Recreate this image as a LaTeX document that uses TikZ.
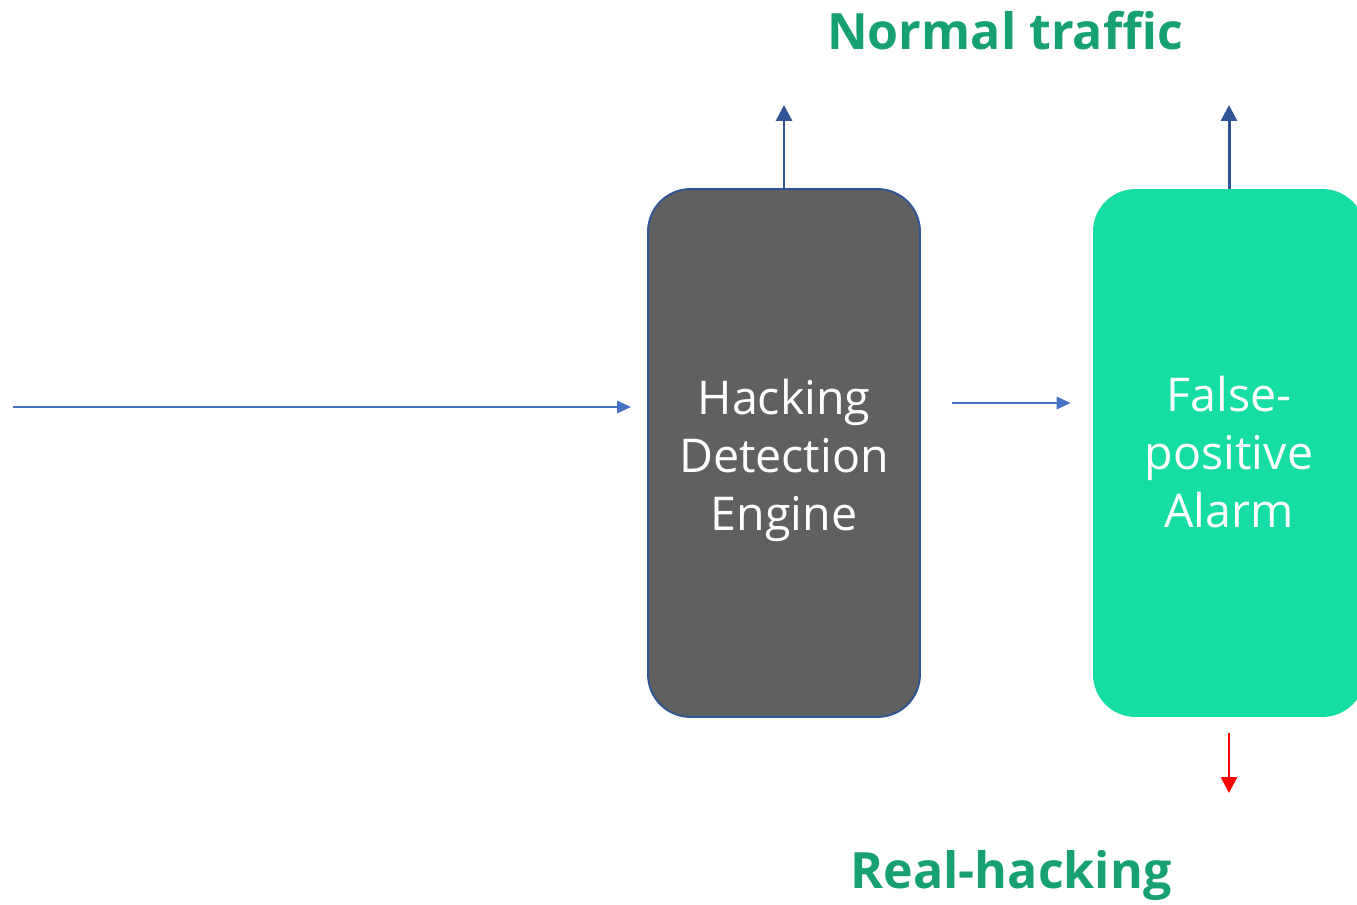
\documentclass[tikz,border=0pt]{standalone}
\usepackage{fontspec}
\setmainfont{Open Sans}
\usetikzlibrary{arrows.meta,positioning}
\definecolor{enginegray}{HTML}{606060}
\definecolor{edgeblue}{HTML}{2F5597}
\definecolor{flowblue}{HTML}{4472C4}
\definecolor{alarmgreen}{HTML}{16DDA3}
\definecolor{titlegreen}{HTML}{16A073}
\tikzset{
  stagebox/.style={rounded corners=0.85cm, minimum width=5.44cm, minimum height=10.56cm, inner sep=0pt},
  stagetext/.style={align=center, text=white, yshift=-0.15cm, font=\fontsize{26.5}{33}\selectfont},
  flow/.style={draw=flowblue, line width=1.3pt, -{Triangle[length=8pt,width=7pt]}},
  outflow/.style={draw=edgeblue, line width=1.7pt, -{Triangle[length=9pt,width=9pt]}},
  alarmflow/.style={draw=red, line width=1.6pt, -{Triangle[length=9pt,width=9pt]}},
  headline/.style={text=titlegreen, font=\fontsize{28.5}{34}\selectfont\bfseries}
}
\begin{document}
\begin{tikzpicture}[x=0.02cm,y=-0.02cm]
  \useasboundingbox (0,0) rectangle (1357,904);
  % the two stages
  \node [stagebox, fill=enginegray, draw=edgeblue, line width=1.1pt,
    label={[stagetext]center:Hacking\\Detection\\Engine}] (engine) at (784,453) {};
  \node [stagebox, fill=alarmgreen,
    label={[stagetext, yshift=0.16cm]center:False-\\positive\\Alarm}] (alarm) at (1229,453) {};
  % outcomes
  \node [headline] (normal) at (1005,31) {Normal traffic};
  \node [headline] (real) at (1011,875) {Real-hacking};
  \coordinate (in) at (13,407);
  \coordinate (up) at (784,105);
  \coordinate (down) at (1227,793);
  \draw [flow, shorten >=0.32cm] (in) -- (engine.west |- in);
  \draw [flow, shorten <=0.62cm, shorten >=0.44cm] ([yshift=1cm]engine.east) -- ([yshift=1cm]alarm.west);
  \draw [outflow] (engine.north) -- (up);
  \draw [outflow] (alarm.north) -- (alarm.north |- up);
  \draw [alarmflow, shorten <=0.32cm] (alarm.south) -- (alarm.south |- down);
\end{tikzpicture}
\end{document}
